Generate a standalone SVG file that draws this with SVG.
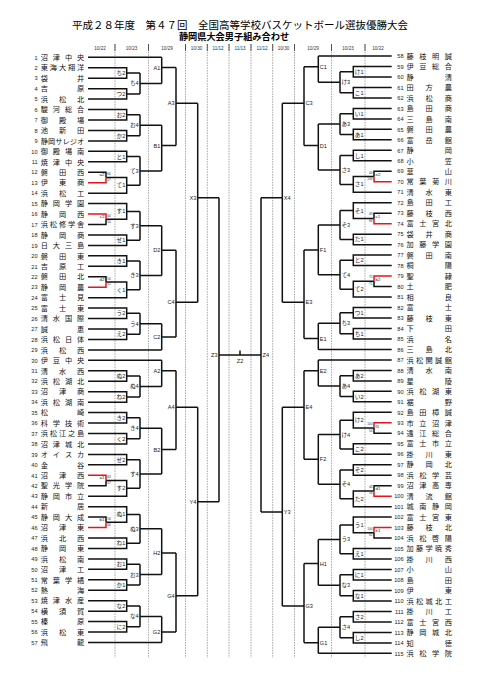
<svg xmlns="http://www.w3.org/2000/svg" width="481" height="680" viewBox="0 0 481 680">
<style>
.bg{fill:#fff}
.d{stroke:#888;stroke-width:0.7;stroke-dasharray:1.6 1;fill:none}
.tk{stroke:#333;stroke-width:0.8}
.b{stroke:#111;stroke-width:1.5;fill:none}
.r{stroke:#e8141a;stroke-width:1.5;fill:none}
.t{font-family:"Noto Sans CJK JP",sans-serif;fill:#000}
.ti{font-size:10.5px;text-anchor:middle}
.st{font-size:9.2px;font-weight:bold;text-anchor:middle}
.dt{font-family:"Liberation Sans",sans-serif;font-size:4.6px;text-anchor:middle;fill:#333}
.no{font-family:"Liberation Sans",sans-serif;font-size:5.6px;fill:#222}
.ln{text-anchor:end}
.nm{font-family:"Noto Sans CJK JP",sans-serif;font-size:7.2px;text-anchor:middle;fill:#111}
.lb{font-family:"Liberation Sans","Noto Sans CJK JP",sans-serif;font-size:5.6px;fill:#222}
.le{text-anchor:end}
.mid{text-anchor:middle}
.pl{font-family:"Liberation Sans",sans-serif;font-size:4.4px;fill:#222}
.sc{font-family:"Liberation Sans",sans-serif;font-size:3.2px;fill:#333}
</style>
<rect class="bg" x="0" y="0" width="481" height="680"/>
<g id="title">
<text class="t ti" x="240" y="29.2">平成２８年度　第４７回　全国高等学校バスケットボール選抜優勝大会</text>
<text class="t st" x="234" y="40.2">静岡県大会男子組み合わせ</text>
</g>
<g id="dates">
<text class="dt" x="100" y="49.5">10/22</text>
<text class="dt" x="131.5" y="49.5">10/23</text>
<text class="dt" x="167" y="49.5">10/29</text>
<text class="dt" x="196.5" y="49.5">10/30</text>
<text class="dt" x="218" y="49.5">11/12</text>
<text class="dt" x="240" y="49.5">11/13</text>
<text class="dt" x="262" y="49.5">11/12</text>
<text class="dt" x="283.5" y="49.5">10/30</text>
<text class="dt" x="313" y="49.5">10/29</text>
<text class="dt" x="348" y="49.5">10/23</text>
<text class="dt" x="378" y="49.5">10/22</text>
</g>
<g id="gridlines">
<path class="d" d="M115,44V658M148.5,44V658M185.5,44V658M207.3,44V658M229,44V658M251,44V658M272.7,44V658M294.5,44V658M331.5,44V658M365,44V658"/>
<path class="tk" d="M115,44V51M148.5,44V51M185.5,44V51M207.3,44V51M229,44V51M251,44V51M272.7,44V51M294.5,44V51M331.5,44V51M365,44V51"/>
</g>
<g id="connectors">
<path class="b" d="M88,57.3H161.7
M88,67.75H126.7V78.2H88M126.7,72.98H140
M88,88.65H126.7V99.1H88M126.7,93.88H140
M140,72.98V93.88M140,83.43H161.7
M161.7,57.3V83.43M161.7,67.5H176
M88,109.55H126.7V120H88M126.7,114.78H140
M88,130.45H126.7V140.9H88M126.7,135.68H140
M140,114.78V135.68M140,125.23H161.7
M88,151.35H126.7V161.8H88M126.7,156.58H140
M88,172.25H106V177.48
M106,177.48H126.7V193.15H88M126.7,185.3H140
M140,156.58V185.3M140,170.94H161.7
M161.7,125.23V170.94M161.7,145.5H176
M176,67.5V145.5M176,103.3H197.7
M88,203.6H126.7V219.28H106M126.7,211.44H140
M88,224.5H106V219.28
M88,234.95H126.7V245.4H88M126.7,240.18H140
M140,211.44V240.18M140,225.81H161.7
M88,255.85H126.7V266.3H88M126.7,261.08H140
M88,276.75H106V281.98
M106,281.98H126.7V297.65H88M126.7,289.81H140
M140,261.08V289.81M140,275.45H161.7
M161.7,225.81V275.45M161.7,250.3H176
M88,308.1H126.7V318.55H88M126.7,313.33H140
M88,329H126.7V339.45H88M126.7,334.23H140
M140,313.33V334.23M140,323.78H161.7
M88,349.9H161.7
M161.7,323.78V349.9M161.7,337H176
M176,250.3V337M176,302.3H197.7
M197.7,103.3V302.3M197.7,197.7H219
M88,360.35H161.7
M88,370.8H126.7V381.25H88M126.7,376.03H140
M88,391.7H126.7V402.15H88M126.7,396.93H140
M140,376.03V396.93M140,386.48H161.7
M161.7,360.35V386.48M161.7,370.7H176
M88,412.6H126.7V423.05H88M126.7,417.83H140
M88,433.5H126.7V443.95H88M126.7,438.73H140
M140,417.83V438.73M140,428.28H161.7
M88,454.4H126.7V464.85H88M126.7,459.63H140
M88,485.75H106V480.53
M106,480.53H126.7V496.2H88M126.7,488.36H140
M140,459.63V488.36M140,474H161.7
M161.7,428.28V474M161.7,449.5H176
M176,370.7V449.5M176,407.3H197.7
M88,506.65H126.7V522.33H106M126.7,514.49H140
M88,517.1H106V522.33
M88,538H126.7V548.45H88M126.7,543.23H140
M140,514.49V543.23M140,528.86H161.7
M88,558.9H126.7V569.35H88M126.7,564.13H140
M88,579.8H126.7V590.25H88M126.7,585.03H140
M140,564.13V585.03M140,574.58H161.7
M161.7,528.86V574.58M161.7,553H176
M88,600.7H126.7V611.15H88M126.7,605.93H140
M88,621.6H126.7V632.05H88M126.7,626.83H140
M140,605.93V626.83M140,616.38H161.7
M88,642.5H161.7
M161.7,616.38V642.5M161.7,632H176
M176,553V632M176,595.7H197.7
M197.7,407.3V595.7M197.7,501.7H219
M219,197.7V501.7M219,355H261
M240,355V350.5
M261,197.7V512
M391.7,56H318.3
M391.7,66.48H353.3V76.96H391.7M353.3,71.72H340
M391.7,87.44H353.3V97.92H391.7M353.3,92.68H340
M340,71.72V92.68M340,82.2H318.3
M318.3,56V82.2M318.3,66.7H304
M391.7,108.4H353.3V118.88H391.7M353.3,113.64H340
M391.7,129.36H353.3V139.84H391.7M353.3,134.6H340
M340,113.64V134.6M340,124.12H318.3
M391.7,150.32H353.3V160.8H391.7M353.3,155.56H340
M391.7,171.28H374V176.52
M374,176.52H353.3V192.24H391.7M353.3,184.38H340
M340,155.56V184.38M340,169.97H318.3
M318.3,124.12V169.97M318.3,145.5H304
M304,66.7V145.5M304,103.3H282.3
M391.7,202.72H353.3V218.44H374M353.3,210.58H340
M391.7,213.2H374V218.44
M391.7,234.16H353.3V244.64H391.7M353.3,239.4H340
M340,210.58V239.4M340,224.99H318.3
M391.7,255.12H353.3V265.6H391.7M353.3,260.36H340
M391.7,286.56H374V281.32
M374,281.32H353.3V297.04H391.7M353.3,289.18H340
M340,260.36V289.18M340,274.77H318.3
M318.3,224.99V274.77M318.3,250H304
M391.7,307.52H353.3V318H391.7M353.3,312.76H340
M391.7,328.48H353.3V338.96H391.7M353.3,333.72H340
M340,312.76V333.72M340,323.24H318.3
M391.7,349.44H318.3
M318.3,323.24V349.44M318.3,338.5H304
M304,250V338.5M304,302.3H282.3
M282.3,103.3V302.3M282.3,197.7H261
M391.7,359.92H318.3
M391.7,370.4H353.3V380.88H391.7M353.3,375.64H340
M391.7,391.36H353.3V401.84H391.7M353.3,396.6H340
M340,375.64V396.6M340,386.12H318.3
M318.3,359.92V386.12M318.3,370.7H304
M391.7,412.32H353.3V428.04H374M353.3,420.18H340
M391.7,433.28H374V428.04
M391.7,443.76H353.3V454.24H391.7M353.3,449H340
M340,420.18V449M340,434.59H318.3
M391.7,464.72H353.3V475.2H391.7M353.3,469.96H340
M391.7,485.68H374V490.92
M374,490.92H353.3V506.64H391.7M353.3,498.78H340
M340,469.96V498.78M340,484.37H318.3
M318.3,434.59V484.37M318.3,459.3H304
M304,370.7V459.3M304,407.3H282.3
M391.7,517.12H353.3V532.84H374M353.3,524.98H340
M391.7,538.08H374V532.84
M391.7,548.56H353.3V559.04H391.7M353.3,553.8H340
M340,524.98V553.8M340,539.39H318.3
M391.7,569.52H353.3V580H391.7M353.3,574.76H340
M391.7,590.48H353.3V600.96H391.7M353.3,595.72H340
M340,574.76V595.72M340,585.24H318.3
M318.3,539.39V585.24M318.3,563.5H304
M391.7,611.44H353.3V621.92H391.7M353.3,616.68H340
M391.7,632.4H353.3V642.88H391.7M353.3,637.64H340
M340,616.68V637.64M340,627.16H318.3
M391.7,653.36H318.3
M318.3,627.16V653.36M318.3,642.7H304
M304,563.5V642.7M304,606H282.3
M282.3,407.3V606M282.3,512H261"/>
<path class="r" d="M88,182.7H106V177.48
M88,214.05H106V219.28
M88,287.2H106V281.98
M88,475.3H106V480.53
M88,527.55H106V522.33
M391.7,181.76H374V176.52
M391.7,223.68H374V218.44
M391.7,276.08H374V281.32
M391.7,422.8H374V428.04
M391.7,496.16H374V490.92
M391.7,527.6H374V532.84"/>
</g>
<g id="match-labels">
<text class="lb le" x="125.3" y="74.98">ち2</text>
<text class="lb le" x="125.3" y="95.88">つ2</text>
<text class="lb le" x="125.3" y="116.78">お2</text>
<text class="lb le" x="125.3" y="137.68">か2</text>
<text class="lb le" x="125.3" y="158.58">と1</text>
<text class="lb le" x="125.3" y="187.3">て1</text>
<text class="lb le" x="125.3" y="213.44">す1</text>
<text class="lb le" x="125.3" y="242.18">せ1</text>
<text class="lb le" x="125.3" y="263.08">き1</text>
<text class="lb le" x="125.3" y="291.81">く1</text>
<text class="lb le" x="125.3" y="315.33">う2</text>
<text class="lb le" x="125.3" y="336.23">え2</text>
<text class="lb le" x="125.3" y="378.03">ぬ2</text>
<text class="lb le" x="125.3" y="398.93">ね2</text>
<text class="lb le" x="125.3" y="419.83">き2</text>
<text class="lb le" x="125.3" y="440.73">く2</text>
<text class="lb le" x="125.3" y="461.63">せ2</text>
<text class="lb le" x="125.3" y="490.36">す2</text>
<text class="lb le" x="125.3" y="516.49">ぬ1</text>
<text class="lb le" x="125.3" y="545.23">ね1</text>
<text class="lb le" x="125.3" y="566.13">お1</text>
<text class="lb le" x="125.3" y="587.03">か1</text>
<text class="lb le" x="125.3" y="607.93">な2</text>
<text class="lb le" x="125.3" y="628.83">に2</text>
<text class="lb le" x="138.6" y="85.43">ち4</text>
<text class="lb le" x="138.6" y="127.23">お4</text>
<text class="lb le" x="138.6" y="172.94">て3</text>
<text class="lb le" x="138.6" y="227.81">す3</text>
<text class="lb le" x="138.6" y="277.45">き3</text>
<text class="lb le" x="138.6" y="325.78">う4</text>
<text class="lb le" x="138.6" y="388.48">ぬ4</text>
<text class="lb le" x="138.6" y="430.28">き4</text>
<text class="lb le" x="138.6" y="476">す4</text>
<text class="lb le" x="138.6" y="530.86">ぬ3</text>
<text class="lb le" x="138.6" y="576.58">お3</text>
<text class="lb le" x="138.6" y="618.38">な4</text>
<text class="lb le" x="160.3" y="69.5">A1</text>
<text class="lb le" x="160.3" y="147.5">B1</text>
<text class="lb le" x="160.3" y="252.3">D2</text>
<text class="lb le" x="160.3" y="339">C2</text>
<text class="lb le" x="160.3" y="372.7">A2</text>
<text class="lb le" x="160.3" y="451.5">B2</text>
<text class="lb le" x="160.3" y="555">H2</text>
<text class="lb le" x="160.3" y="634">G2</text>
<text class="lb le" x="174.6" y="105.3">A3</text>
<text class="lb le" x="174.6" y="304.3">C4</text>
<text class="lb le" x="174.6" y="409.3">A4</text>
<text class="lb le" x="174.6" y="597.7">G4</text>
<text class="lb le" x="196.3" y="199.7">X3</text>
<text class="lb le" x="196.3" y="503.7">Y4</text>
<text class="lb le" x="217.6" y="357">Z3</text>
<text class="lb mid" x="240" y="362.5">Z2</text>
<text class="lb" x="262.5" y="357">Z4</text>
<text class="lb" x="283.8" y="199.7">X4</text>
<text class="lb" x="283.8" y="514">Y3</text>
<text class="lb" x="305.5" y="105.3">C3</text>
<text class="lb" x="305.5" y="304.3">E3</text>
<text class="lb" x="305.5" y="409.3">E4</text>
<text class="lb" x="305.5" y="608">G3</text>
<text class="lb" x="319.8" y="68.7">C1</text>
<text class="lb" x="319.8" y="147.5">D1</text>
<text class="lb" x="319.8" y="252">F1</text>
<text class="lb" x="319.8" y="340.5">E1</text>
<text class="lb" x="319.8" y="372.7">E2</text>
<text class="lb" x="319.8" y="461.3">F2</text>
<text class="lb" x="319.8" y="565.5">H1</text>
<text class="lb" x="319.8" y="644.7">G1</text>
<text class="lb" x="341.5" y="84.2">け3</text>
<text class="lb" x="341.5" y="126.12">あ3</text>
<text class="lb" x="341.5" y="171.97">さ3</text>
<text class="lb" x="341.5" y="226.99">そ3</text>
<text class="lb" x="341.5" y="276.77">て4</text>
<text class="lb" x="341.5" y="325.24">ち3</text>
<text class="lb" x="341.5" y="388.12">あ4</text>
<text class="lb" x="341.5" y="436.59">け4</text>
<text class="lb" x="341.5" y="486.37">そ4</text>
<text class="lb" x="341.5" y="541.39">う3</text>
<text class="lb" x="341.5" y="587.24">な3</text>
<text class="lb" x="341.5" y="629.16">さ4</text>
<text class="lb" x="354.8" y="73.72">け1</text>
<text class="lb" x="354.8" y="94.68">こ1</text>
<text class="lb" x="354.8" y="115.64">い1</text>
<text class="lb" x="354.8" y="136.6">あ1</text>
<text class="lb" x="354.8" y="157.56">し1</text>
<text class="lb" x="354.8" y="186.38">さ1</text>
<text class="lb" x="354.8" y="212.58">そ1</text>
<text class="lb" x="354.8" y="241.4">た1</text>
<text class="lb" x="354.8" y="262.36">と2</text>
<text class="lb" x="354.8" y="291.18">て2</text>
<text class="lb" x="354.8" y="314.76">つ1</text>
<text class="lb" x="354.8" y="335.72">ち1</text>
<text class="lb" x="354.8" y="377.64">あ2</text>
<text class="lb" x="354.8" y="398.6">い2</text>
<text class="lb" x="354.8" y="422.18">け2</text>
<text class="lb" x="354.8" y="451">こ2</text>
<text class="lb" x="354.8" y="471.96">そ2</text>
<text class="lb" x="354.8" y="500.78">た2</text>
<text class="lb" x="354.8" y="526.98">う1</text>
<text class="lb" x="354.8" y="555.8">え1</text>
<text class="lb" x="354.8" y="576.76">に1</text>
<text class="lb" x="354.8" y="597.72">な1</text>
<text class="lb" x="354.8" y="618.68">さ2</text>
<text class="lb" x="354.8" y="639.64">し2</text>
</g>
<g id="prelim-labels">
<text class="pl le" x="104.5" y="176">a2</text><text class="sc" x="107.2" y="175">66</text><text class="sc" x="107.2" y="180.7">57</text>
<text class="pl le" x="104.5" y="217.8">c2</text><text class="sc" x="107.2" y="216.8">60</text><text class="sc" x="107.2" y="222.5">50</text>
<text class="pl le" x="104.5" y="280.5">d2</text><text class="sc" x="107.2" y="279.5">50</text><text class="sc" x="107.2" y="285.2">51</text>
<text class="pl le" x="104.5" y="479">a1</text><text class="sc" x="107.2" y="478">63</text><text class="sc" x="107.2" y="483.7">47</text>
<text class="pl le" x="104.5" y="520.8">b1</text><text class="sc" x="107.2" y="519.8">56</text><text class="sc" x="107.2" y="525.5">66</text>
<text class="pl" x="375.5" y="176">e2</text><text class="sc le" x="372.6" y="173.5">44</text><text class="sc le" x="372.6" y="180">106</text>
<text class="pl" x="375.5" y="218">c1</text><text class="sc le" x="372.6" y="215.4">49</text><text class="sc le" x="372.6" y="221.9">66</text>
<text class="pl" x="375.5" y="280.8">b2</text><text class="sc le" x="372.6" y="278.3">75</text><text class="sc le" x="372.6" y="284.8">71</text>
<text class="pl" x="375.5" y="427.5">f1</text><text class="sc le" x="372.6" y="425">100</text><text class="sc le" x="372.6" y="431.5">54</text>
<text class="pl" x="375.5" y="490.4">d1</text><text class="sc le" x="372.6" y="487.9">46</text><text class="sc le" x="372.6" y="494.4">56</text>
<text class="pl" x="375.5" y="532.3">e1</text><text class="sc le" x="372.6" y="529.8">100</text><text class="sc le" x="372.6" y="536.3">61</text>
</g>
<g id="teams-left">
<g id="t1"><text class="no ln" x="37.5" y="59.5">1</text><text class="nm" x="44.3 56.4 68.6 80.7" y="60">沼津中央</text></g>
<g id="t2"><text class="no ln" x="37.5" y="69.95">2</text><text class="nm" x="44.3 53.4 62.5 71.6 80.7" y="70.45">東海大翔洋</text></g>
<g id="t3"><text class="no ln" x="37.5" y="80.4">3</text><text class="nm" x="44.3 80.7" y="80.9">袋井</text></g>
<g id="t4"><text class="no ln" x="37.5" y="90.85">4</text><text class="nm" x="44.3 80.7" y="91.35">吉原</text></g>
<g id="t5"><text class="no ln" x="37.5" y="101.3">5</text><text class="nm" x="44.3 62.5 80.7" y="101.8">浜松北</text></g>
<g id="t6"><text class="no ln" x="37.5" y="111.75">6</text><text class="nm" x="44.3 56.4 68.6 80.7" y="112.25">駿河総合</text></g>
<g id="t7"><text class="no ln" x="37.5" y="122.2">7</text><text class="nm" x="44.3 62.5 80.7" y="122.7">御殿場</text></g>
<g id="t8"><text class="no ln" x="37.5" y="132.65">8</text><text class="nm" x="44.3 62.5 80.7" y="133.15">池新田</text></g>
<g id="t9"><text class="no ln" x="37.5" y="143.1">9</text><text class="nm" x="44.3 51.6 58.9 66.1 73.4 80.7" y="143.6">静岡サレジオ</text></g>
<g id="t10"><text class="no ln" x="37.5" y="153.55">10</text><text class="nm" x="44.3 56.4 68.6 80.7" y="154.05">御殿場南</text></g>
<g id="t11"><text class="no ln" x="37.5" y="164">11</text><text class="nm" x="44.3 56.4 68.6 80.7" y="164.5">焼津中央</text></g>
<g id="t12"><text class="no ln" x="37.5" y="174.45">12</text><text class="nm" x="44.3 62.5 80.7" y="174.95">磐田西</text></g>
<g id="t13"><text class="no ln" x="37.5" y="184.9">13</text><text class="nm" x="44.3 62.5 80.7" y="185.4">伊東商</text></g>
<g id="t14"><text class="no ln" x="37.5" y="195.35">14</text><text class="nm" x="44.3 62.5 80.7" y="195.85">浜松工</text></g>
<g id="t15"><text class="no ln" x="37.5" y="205.8">15</text><text class="nm" x="44.3 56.4 68.6 80.7" y="206.3">静岡学園</text></g>
<g id="t16"><text class="no ln" x="37.5" y="216.25">16</text><text class="nm" x="44.3 62.5 80.7" y="216.75">静岡西</text></g>
<g id="t17"><text class="no ln" x="37.5" y="226.7">17</text><text class="nm" x="44.3 53.4 62.5 71.6 80.7" y="227.2">浜松修学舎</text></g>
<g id="t18"><text class="no ln" x="37.5" y="237.15">18</text><text class="nm" x="44.3 62.5 80.7" y="237.65">静岡商</text></g>
<g id="t19"><text class="no ln" x="37.5" y="247.6">19</text><text class="nm" x="44.3 56.4 68.6 80.7" y="248.1">日大三島</text></g>
<g id="t20"><text class="no ln" x="37.5" y="258.05">20</text><text class="nm" x="44.3 62.5 80.7" y="258.55">磐田東</text></g>
<g id="t21"><text class="no ln" x="37.5" y="268.5">21</text><text class="nm" x="44.3 62.5 80.7" y="269">吉原工</text></g>
<g id="t22"><text class="no ln" x="37.5" y="278.95">22</text><text class="nm" x="44.3 62.5 80.7" y="279.45">磐田北</text></g>
<g id="t23"><text class="no ln" x="37.5" y="289.4">23</text><text class="nm" x="44.3 62.5 80.7" y="289.9">静岡農</text></g>
<g id="t24"><text class="no ln" x="37.5" y="299.85">24</text><text class="nm" x="44.3 62.5 80.7" y="300.35">富士見</text></g>
<g id="t25"><text class="no ln" x="37.5" y="310.3">25</text><text class="nm" x="44.3 62.5 80.7" y="310.8">富士東</text></g>
<g id="t26"><text class="no ln" x="37.5" y="320.75">26</text><text class="nm" x="44.3 56.4 68.6 80.7" y="321.25">清水国際</text></g>
<g id="t27"><text class="no ln" x="37.5" y="331.2">27</text><text class="nm" x="44.3 80.7" y="331.7">誠恵</text></g>
<g id="t28"><text class="no ln" x="37.5" y="341.65">28</text><text class="nm" x="44.3 56.4 68.6 80.7" y="342.15">浜松日体</text></g>
<g id="t29"><text class="no ln" x="37.5" y="352.1">29</text><text class="nm" x="44.3 62.5 80.7" y="352.6">浜松西</text></g>
<g id="t30"><text class="no ln" x="37.5" y="362.55">30</text><text class="nm" x="44.3 56.4 68.6 80.7" y="363.05">伊豆中央</text></g>
<g id="t31"><text class="no ln" x="37.5" y="373">31</text><text class="nm" x="44.3 62.5 80.7" y="373.5">清水西</text></g>
<g id="t32"><text class="no ln" x="37.5" y="383.45">32</text><text class="nm" x="44.3 56.4 68.6 80.7" y="383.95">浜松湖北</text></g>
<g id="t33"><text class="no ln" x="37.5" y="393.9">33</text><text class="nm" x="44.3 62.5 80.7" y="394.4">沼津商</text></g>
<g id="t34"><text class="no ln" x="37.5" y="404.35">34</text><text class="nm" x="44.3 56.4 68.6 80.7" y="404.85">浜松湖南</text></g>
<g id="t35"><text class="no ln" x="37.5" y="414.8">35</text><text class="nm" x="44.3 80.7" y="415.3">松崎</text></g>
<g id="t36"><text class="no ln" x="37.5" y="425.25">36</text><text class="nm" x="44.3 56.4 68.6 80.7" y="425.75">科学技術</text></g>
<g id="t37"><text class="no ln" x="37.5" y="435.7">37</text><text class="nm" x="44.3 53.4 62.5 71.6 80.7" y="436.2">浜松江之島</text></g>
<g id="t38"><text class="no ln" x="37.5" y="446.15">38</text><text class="nm" x="44.3 56.4 68.6 80.7" y="446.65">沼津城北</text></g>
<g id="t39"><text class="no ln" x="37.5" y="456.6">39</text><text class="nm" x="44.3 56.4 68.6 80.7" y="457.1">オイスカ</text></g>
<g id="t40"><text class="no ln" x="37.5" y="467.05">40</text><text class="nm" x="44.3 80.7" y="467.55">金谷</text></g>
<g id="t41"><text class="no ln" x="37.5" y="477.5">41</text><text class="nm" x="44.3 62.5 80.7" y="478">沼津西</text></g>
<g id="t42"><text class="no ln" x="37.5" y="487.95">42</text><text class="nm" x="44.3 56.4 68.6 80.7" y="488.45">聖光学院</text></g>
<g id="t43"><text class="no ln" x="37.5" y="498.4">43</text><text class="nm" x="44.3 56.4 68.6 80.7" y="498.9">静岡市立</text></g>
<g id="t44"><text class="no ln" x="37.5" y="508.85">44</text><text class="nm" x="44.3 80.7" y="509.35">新居</text></g>
<g id="t45"><text class="no ln" x="37.5" y="519.3">45</text><text class="nm" x="44.3 56.4 68.6 80.7" y="519.8">静岡大成</text></g>
<g id="t46"><text class="no ln" x="37.5" y="529.75">46</text><text class="nm" x="44.3 62.5 80.7" y="530.25">沼津東</text></g>
<g id="t47"><text class="no ln" x="37.5" y="540.2">47</text><text class="nm" x="44.3 62.5 80.7" y="540.7">浜北西</text></g>
<g id="t48"><text class="no ln" x="37.5" y="550.65">48</text><text class="nm" x="44.3 62.5 80.7" y="551.15">静岡東</text></g>
<g id="t49"><text class="no ln" x="37.5" y="561.1">49</text><text class="nm" x="44.3 62.5 80.7" y="561.6">浜松南</text></g>
<g id="t50"><text class="no ln" x="37.5" y="571.55">50</text><text class="nm" x="44.3 62.5 80.7" y="572.05">沼津工</text></g>
<g id="t51"><text class="no ln" x="37.5" y="582">51</text><text class="nm" x="44.3 56.4 68.6 80.7" y="582.5">常葉学橘</text></g>
<g id="t52"><text class="no ln" x="37.5" y="592.45">52</text><text class="nm" x="44.3 80.7" y="592.95">熱海</text></g>
<g id="t53"><text class="no ln" x="37.5" y="602.9">53</text><text class="nm" x="44.3 56.4 68.6 80.7" y="603.4">焼津水産</text></g>
<g id="t54"><text class="no ln" x="37.5" y="613.35">54</text><text class="nm" x="44.3 62.5 80.7" y="613.85">横須賀</text></g>
<g id="t55"><text class="no ln" x="37.5" y="623.8">55</text><text class="nm" x="44.3 80.7" y="624.3">榛原</text></g>
<g id="t56"><text class="no ln" x="37.5" y="634.25">56</text><text class="nm" x="44.3 62.5 80.7" y="634.75">浜松東</text></g>
<g id="t57"><text class="no ln" x="37.5" y="644.7">57</text><text class="nm" x="44.3 80.7" y="645.2">飛龍</text></g>
</g>
<g id="teams-right">
<g id="t58"><text class="no ln" x="403.5" y="58.2">58</text><text class="nm" x="410 422.8 435.5 448.3" y="58.7">藤枝明誠</text></g>
<g id="t59"><text class="no ln" x="403.5" y="68.68">59</text><text class="nm" x="410 422.8 435.5 448.3" y="69.18">伊豆総合</text></g>
<g id="t60"><text class="no ln" x="403.5" y="79.16">60</text><text class="nm" x="410 448.3" y="79.66">静清</text></g>
<g id="t61"><text class="no ln" x="403.5" y="89.64">61</text><text class="nm" x="410 429.2 448.3" y="90.14">田方農</text></g>
<g id="t62"><text class="no ln" x="403.5" y="100.12">62</text><text class="nm" x="410 429.2 448.3" y="100.62">浜松商</text></g>
<g id="t63"><text class="no ln" x="403.5" y="110.6">63</text><text class="nm" x="410 429.2 448.3" y="111.1">島田商</text></g>
<g id="t64"><text class="no ln" x="403.5" y="121.08">64</text><text class="nm" x="410 429.2 448.3" y="121.58">三島南</text></g>
<g id="t65"><text class="no ln" x="403.5" y="131.56">65</text><text class="nm" x="410 429.2 448.3" y="132.06">磐田農</text></g>
<g id="t66"><text class="no ln" x="403.5" y="142.04">66</text><text class="nm" x="410 429.2 448.3" y="142.54">富岳館</text></g>
<g id="t67"><text class="no ln" x="403.5" y="152.52">67</text><text class="nm" x="410 448.3" y="153.02">静岡</text></g>
<g id="t68"><text class="no ln" x="403.5" y="163">68</text><text class="nm" x="410 448.3" y="163.5">小笠</text></g>
<g id="t69"><text class="no ln" x="403.5" y="173.48">69</text><text class="nm" x="410 448.3" y="173.98">韮山</text></g>
<g id="t70"><text class="no ln" x="403.5" y="183.96">70</text><text class="nm" x="410 422.8 435.5 448.3" y="184.46">常葉菊川</text></g>
<g id="t71"><text class="no ln" x="403.5" y="194.44">71</text><text class="nm" x="410 429.2 448.3" y="194.94">清水東</text></g>
<g id="t72"><text class="no ln" x="403.5" y="204.92">72</text><text class="nm" x="410 429.2 448.3" y="205.42">島田工</text></g>
<g id="t73"><text class="no ln" x="403.5" y="215.4">73</text><text class="nm" x="410 429.2 448.3" y="215.9">藤枝西</text></g>
<g id="t74"><text class="no ln" x="403.5" y="225.88">74</text><text class="nm" x="410 422.8 435.5 448.3" y="226.38">富士宮北</text></g>
<g id="t75"><text class="no ln" x="403.5" y="236.36">75</text><text class="nm" x="410 429.2 448.3" y="236.86">袋井商</text></g>
<g id="t76"><text class="no ln" x="403.5" y="246.84">76</text><text class="nm" x="410 422.8 435.5 448.3" y="247.34">加藤学園</text></g>
<g id="t77"><text class="no ln" x="403.5" y="257.32">77</text><text class="nm" x="410 429.2 448.3" y="257.82">磐田南</text></g>
<g id="t78"><text class="no ln" x="403.5" y="267.8">78</text><text class="nm" x="410 448.3" y="268.3">桐陽</text></g>
<g id="t79"><text class="no ln" x="403.5" y="278.28">79</text><text class="nm" x="410 448.3" y="278.78">聖隷</text></g>
<g id="t80"><text class="no ln" x="403.5" y="288.76">80</text><text class="nm" x="410 448.3" y="289.26">土肥</text></g>
<g id="t81"><text class="no ln" x="403.5" y="299.24">81</text><text class="nm" x="410 448.3" y="299.74">相良</text></g>
<g id="t82"><text class="no ln" x="403.5" y="309.72">82</text><text class="nm" x="410 448.3" y="310.22">富士</text></g>
<g id="t83"><text class="no ln" x="403.5" y="320.2">83</text><text class="nm" x="410 429.2 448.3" y="320.7">藤枝東</text></g>
<g id="t84"><text class="no ln" x="403.5" y="330.68">84</text><text class="nm" x="410 448.3" y="331.18">下田</text></g>
<g id="t85"><text class="no ln" x="403.5" y="341.16">85</text><text class="nm" x="410 448.3" y="341.66">浜名</text></g>
<g id="t86"><text class="no ln" x="403.5" y="351.64">86</text><text class="nm" x="410 429.2 448.3" y="352.14">三島北</text></g>
<g id="t87"><text class="no ln" x="403.5" y="362.12">87</text><text class="nm" x="410 419.6 429.2 438.7 448.3" y="362.62">浜松開誠館</text></g>
<g id="t88"><text class="no ln" x="403.5" y="372.6">88</text><text class="nm" x="410 429.2 448.3" y="373.1">清水南</text></g>
<g id="t89"><text class="no ln" x="403.5" y="383.08">89</text><text class="nm" x="410 448.3" y="383.58">星陵</text></g>
<g id="t90"><text class="no ln" x="403.5" y="393.56">90</text><text class="nm" x="410 422.8 435.5 448.3" y="394.06">浜松湖東</text></g>
<g id="t91"><text class="no ln" x="403.5" y="404.04">91</text><text class="nm" x="410 448.3" y="404.54">裾野</text></g>
<g id="t92"><text class="no ln" x="403.5" y="414.52">92</text><text class="nm" x="410 422.8 435.5 448.3" y="415.02">島田樟誠</text></g>
<g id="t93"><text class="no ln" x="403.5" y="425">93</text><text class="nm" x="410 422.8 435.5 448.3" y="425.5">市立沼津</text></g>
<g id="t94"><text class="no ln" x="403.5" y="435.48">94</text><text class="nm" x="410 422.8 435.5 448.3" y="435.98">遠江総合</text></g>
<g id="t95"><text class="no ln" x="403.5" y="445.96">95</text><text class="nm" x="410 422.8 435.5 448.3" y="446.46">富士市立</text></g>
<g id="t96"><text class="no ln" x="403.5" y="456.44">96</text><text class="nm" x="410 429.2 448.3" y="456.94">掛川東</text></g>
<g id="t97"><text class="no ln" x="403.5" y="466.92">97</text><text class="nm" x="410 429.2 448.3" y="467.42">静岡北</text></g>
<g id="t98"><text class="no ln" x="403.5" y="477.4">98</text><text class="nm" x="410 422.8 435.5 448.3" y="477.9">浜松学芸</text></g>
<g id="t99"><text class="no ln" x="403.5" y="487.88">99</text><text class="nm" x="410 422.8 435.5 448.3" y="488.38">沼津高専</text></g>
<g id="t100"><text class="no ln" x="403.5" y="498.36">100</text><text class="nm" x="410 429.2 448.3" y="498.86">清流館</text></g>
<g id="t101"><text class="no ln" x="403.5" y="508.84">101</text><text class="nm" x="410 422.8 435.5 448.3" y="509.34">城南静岡</text></g>
<g id="t102"><text class="no ln" x="403.5" y="519.32">102</text><text class="nm" x="410 422.8 435.5 448.3" y="519.82">富士宮東</text></g>
<g id="t103"><text class="no ln" x="403.5" y="529.8">103</text><text class="nm" x="410 429.2 448.3" y="530.3">藤枝北</text></g>
<g id="t104"><text class="no ln" x="403.5" y="540.28">104</text><text class="nm" x="410 422.8 435.5 448.3" y="540.78">浜松啓陽</text></g>
<g id="t105"><text class="no ln" x="403.5" y="550.76">105</text><text class="nm" x="410 419.6 429.2 438.7 448.3" y="551.26">加藤学暁秀</text></g>
<g id="t106"><text class="no ln" x="403.5" y="561.24">106</text><text class="nm" x="410 429.2 448.3" y="561.74">掛川西</text></g>
<g id="t107"><text class="no ln" x="403.5" y="571.72">107</text><text class="nm" x="410 448.3" y="572.22">小山</text></g>
<g id="t108"><text class="no ln" x="403.5" y="582.2">108</text><text class="nm" x="410 448.3" y="582.7">島田</text></g>
<g id="t109"><text class="no ln" x="403.5" y="592.68">109</text><text class="nm" x="410 448.3" y="593.18">伊東</text></g>
<g id="t110"><text class="no ln" x="403.5" y="603.16">110</text><text class="nm" x="410 419.6 429.2 438.7 448.3" y="603.66">浜松城北工</text></g>
<g id="t111"><text class="no ln" x="403.5" y="613.64">111</text><text class="nm" x="410 429.2 448.3" y="614.14">掛川工</text></g>
<g id="t112"><text class="no ln" x="403.5" y="624.12">112</text><text class="nm" x="410 422.8 435.5 448.3" y="624.62">富士宮西</text></g>
<g id="t113"><text class="no ln" x="403.5" y="634.6">113</text><text class="nm" x="410 422.8 435.5 448.3" y="635.1">静岡城北</text></g>
<g id="t114"><text class="no ln" x="403.5" y="645.08">114</text><text class="nm" x="410 448.3" y="645.58">知徳</text></g>
<g id="t115"><text class="no ln" x="403.5" y="655.56">115</text><text class="nm" x="410 422.8 435.5 448.3" y="656.06">浜松学院</text></g>
</g>
</svg>
